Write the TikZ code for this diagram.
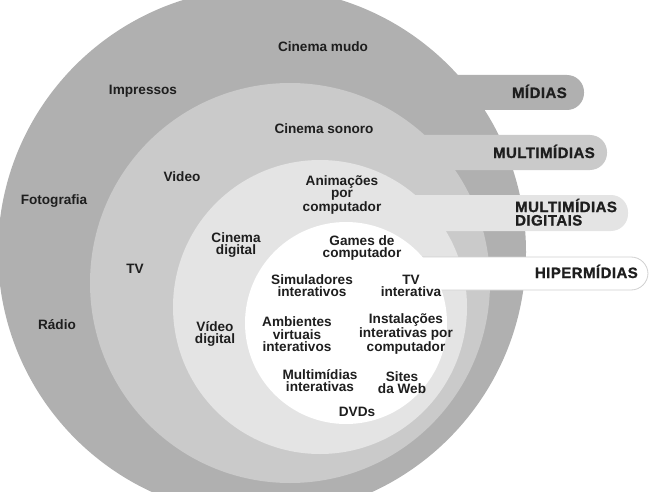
\documentclass[tikz,border=0pt]{standalone}
\usepackage{fontspec}
\setmainfont{Liberation Sans}
\newfontfamily\tabfont[FakeBold=1.2, LetterSpace=3]{Liberation Sans Bold}
\definecolor{ringA}{HTML}{B0B0B0}
\definecolor{ringB}{HTML}{CACACA}
\definecolor{ringC}{HTML}{E4E4E4}
\definecolor{ink}{HTML}{1E1E1E}
\definecolor{tabline}{HTML}{D0D0D0}
\begin{document}
\begin{tikzpicture}[x=1pt,y=-1pt,
  lbl/.style={font=\bfseries\fontsize{13.6}{12.2}\selectfont, text=ink, align=center, inner sep=0pt, anchor=base},
  tablbl/.style={font=\tabfont\fontsize{15}{13.4}\selectfont, text=ink, align=left, inner sep=0pt, anchor=base east},
  tabbar/.style={rounded corners=17pt}]
\useasboundingbox (0,0) rectangle (653,492);
\clip (0,0) rectangle (653,492);
% outer ring: MIDIAS
\fill[ringA] (262,252) circle[radius=264pt];
\fill[ringA, tabbar] (420,75) rectangle (584,110);
% second ring: MULTIMIDIAS
\fill[ringB] (290,283) circle[radius=200pt];
\fill[ringB, tabbar] (400,135) rectangle (607,170);
% third ring: MULTIMIDIAS DIGITAIS
\fill[ringC] (320,307) circle[radius=147pt];
\fill[ringC, tabbar] (380,195) rectangle (628,231);
% inner: HIPERMIDIAS
\filldraw[fill=white, draw=tabline, line width=0.8pt, tabbar] (390,257) rectangle (648,290);
\fill[white] (346,323) circle[radius=101pt];
% tab labels
\node[tablbl] (tmidias) at (567,98) {MÍDIAS};
\node[tablbl] (tmulti) at (595,158) {MULTIMÍDIAS};
\node[tablbl, anchor=base west] (tdig) at (515,225.5) {MULTIMÍDIAS\\DIGITAIS};
\node[tablbl] (thiper) at (638,278) {HIPERMÍDIAS};
% ring labels (base = baseline of last line)
\node[lbl] (cm) at (323,51.5) {Cinema mudo};
\node[lbl] (imp) at (143,94.5) {Impressos};
\node[lbl] (cs) at (324,133.5) {Cinema sonoro};
\node[lbl] (foto) at (54,204.5) {Fotografia};
\node[lbl] (video) at (182,181.5) {Video};
\node[lbl] (tv) at (135,273.5) {TV};
\node[lbl] (radio) at (57,329.5) {Rádio};
\node[lbl] (anim) at (342,211.5) {Animações\\por\\computador};
\node[lbl] (cdig) at (236,254.5) {Cinema\\digital};
\node[lbl] (vdig) at (215,343.8) {Vídeo\\digital};
\node[lbl] (games) at (362,257.8) {Games de\\computador};
\node[lbl] (sim) at (312,296.2) {Simuladores\\interativos};
\node[lbl] (tvi) at (411,296.2) {TV\\interativa};
\node[lbl] (amb) at (297,351.2) {Ambientes\\virtuais\\interativos};
\node[lbl] (inst) at (406,351.2) {Instalações\\interativas por\\computador};
\node[lbl] (multi) at (320,391.2) {Multimídias\\interativas};
\node[lbl] (sites) at (402,393.8) {Sites\\da Web};
\node[lbl] (dvd) at (357,416.5) {DVDs};
\end{tikzpicture}
\end{document}
